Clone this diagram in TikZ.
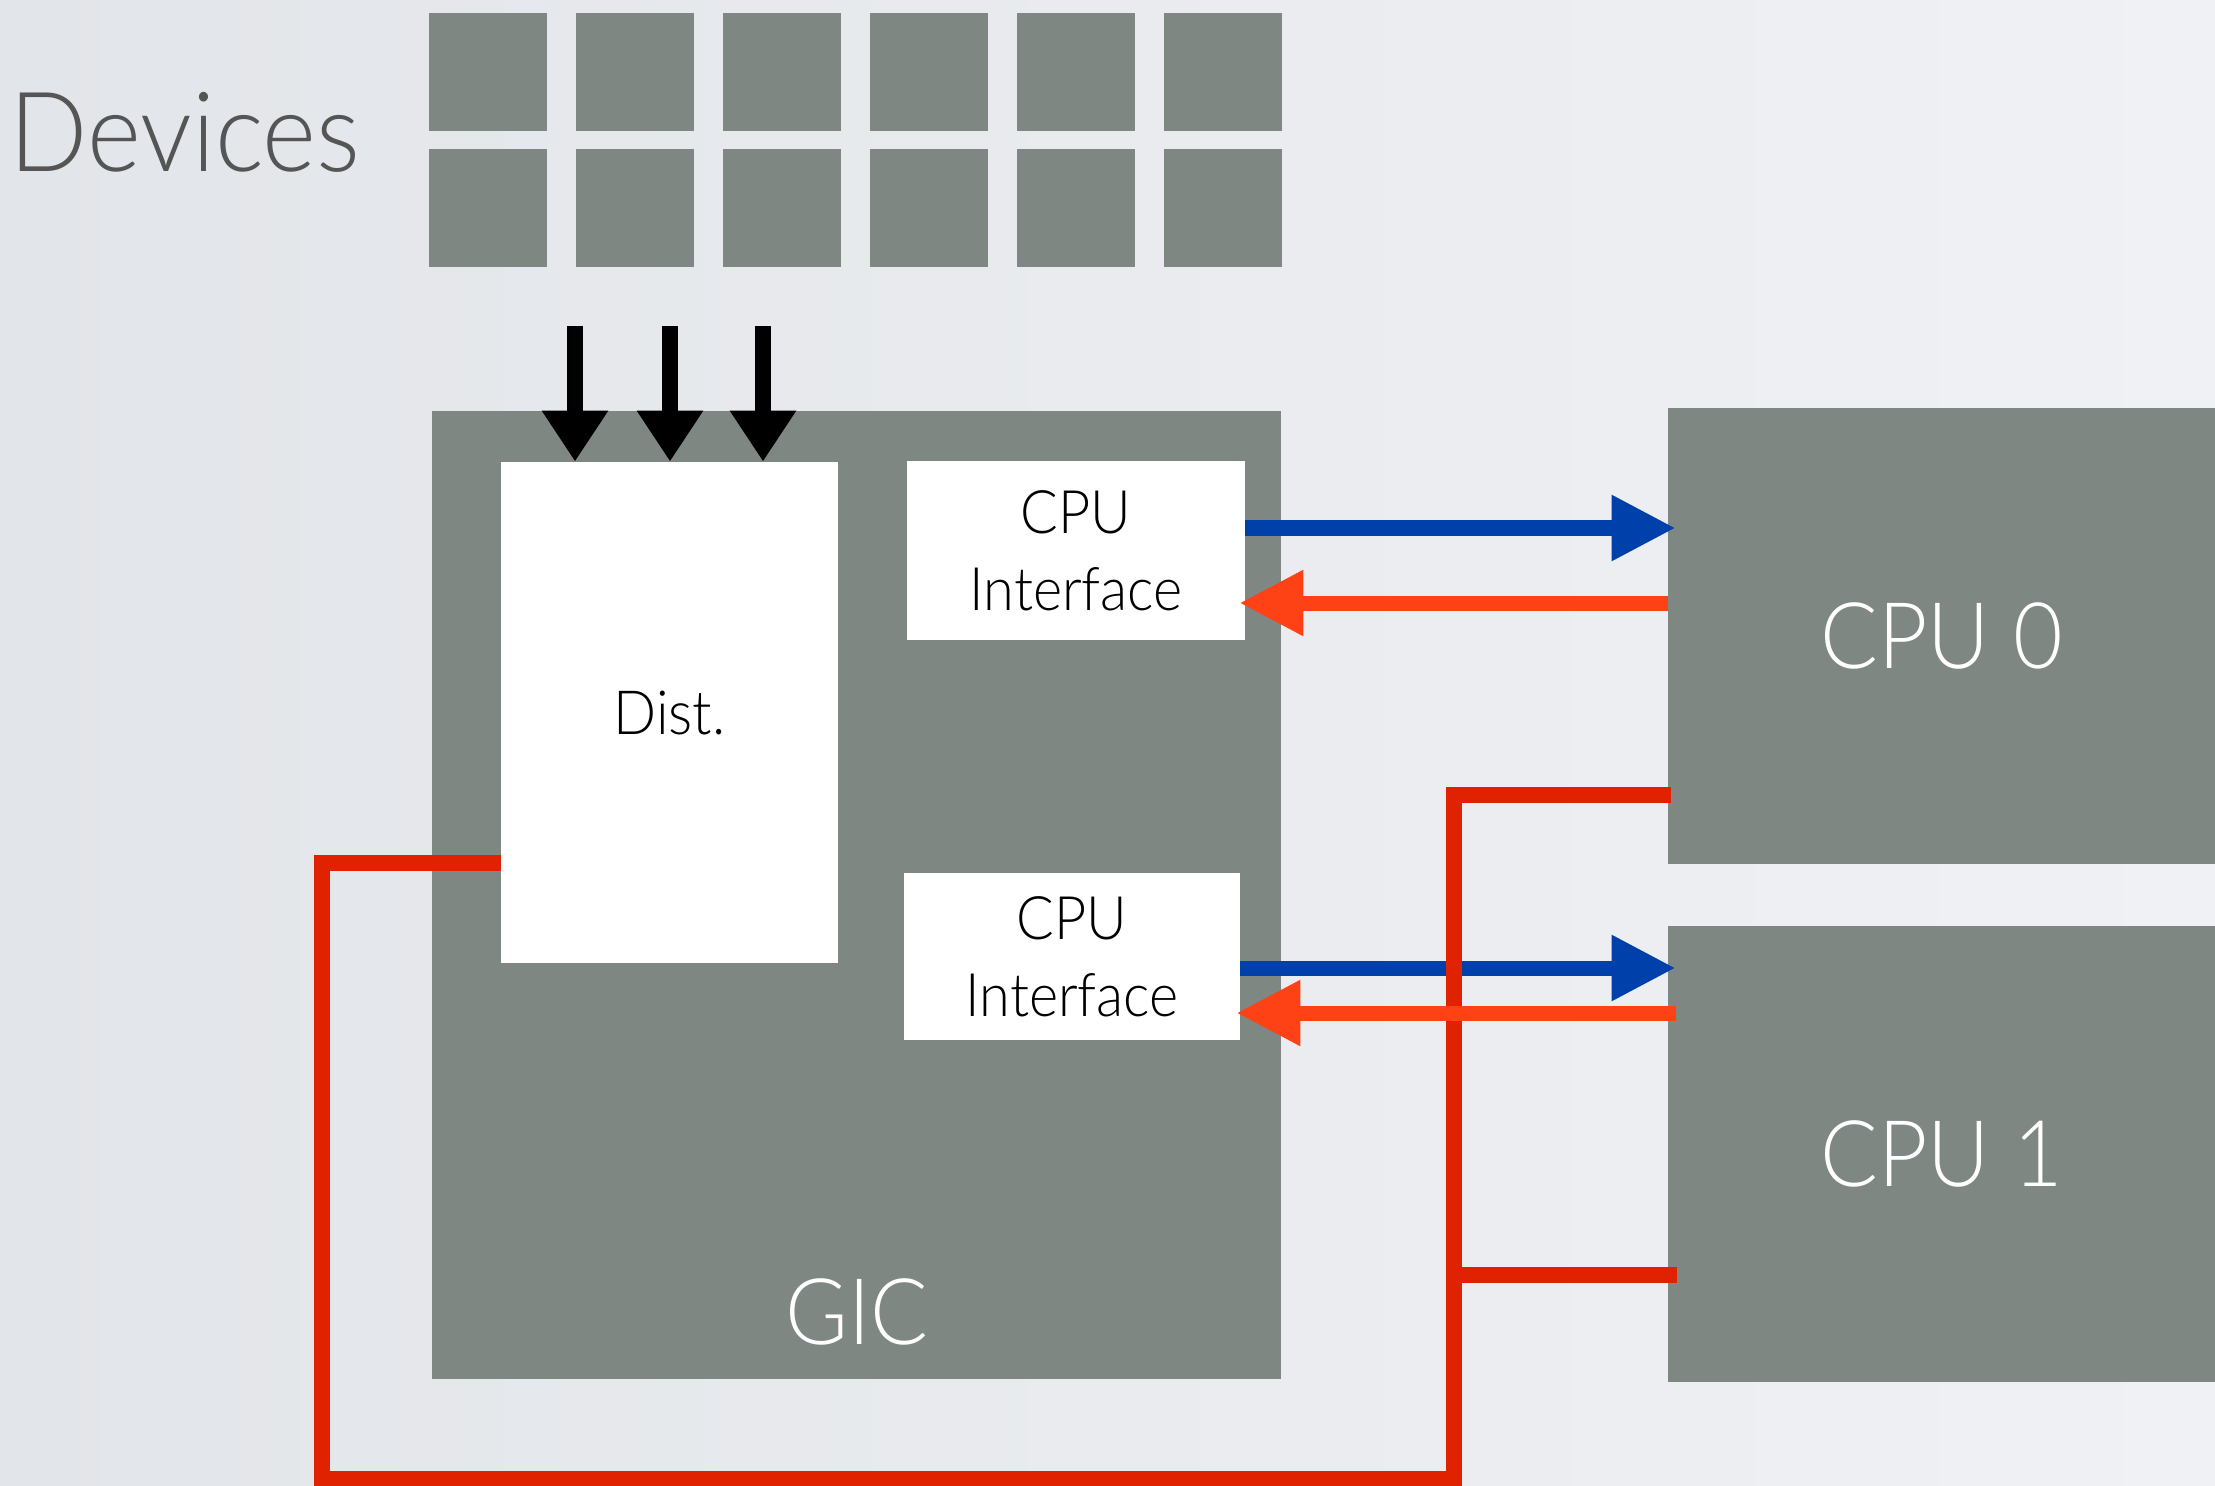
\documentclass[tikz,border=0pt]{standalone}
\usepackage{fontspec}
\setmainfont{Lato}[UprightFont=* Light,FakeStretch=0.93]
\usetikzlibrary{arrows.meta}
\definecolor{bgL}{RGB}{226,229,233}
\definecolor{bgR}{RGB}{240,241,244}
\definecolor{boxgray}{RGB}{127,135,131}
\definecolor{txtgray}{RGB}{85,85,85}
\definecolor{arrblue}{RGB}{0,64,170}
\definecolor{arrorange}{RGB}{255,66,22}
\definecolor{wirered}{RGB}{224,34,0}
\begin{document}
\begin{tikzpicture}[x=0.5pt,y=-0.5pt,
  graybox/.style={rectangle,fill=boxgray,draw=none,inner sep=0pt},
  whitebox/.style={rectangle,fill=white,draw=none,inner sep=0pt,align=center,text=black},
  devbox/.style={graybox,minimum width=59pt,minimum height=59pt},
  lbl/.style={inner sep=0pt,anchor=base},
  blackarr/.style={draw=black,line width=8pt,-{Triangle[length=25.5pt,width=31.5pt]}},
  bluearr/.style={draw=arrblue,line width=7.5pt,-{Triangle[length=32pt,width=31pt]}},
  orangearr/.style={draw=arrorange,line width=7.5pt,-{Triangle[length=32pt,width=31pt]}},
  wire/.style={draw=wirered,line width=8pt,line join=miter}]
\useasboundingbox (0,0) rectangle (2215,1486);
\shade[left color=bgL,right color=bgR] (0,0) rectangle (2215,1486);

% devices
\node[lbl,anchor=base west,text=txtgray,font=\fontsize{55.5}{60}\selectfont] (devlbl) at (9,172) {Devices};
\foreach \i in {0,...,5}{
  \node[devbox] (devA\i) at ({488+147*\i},72) {};
  \node[devbox] (devB\i) at ({488+147*\i},208) {};
}

% GIC and its parts
\node[graybox,minimum width=424.5pt,minimum height=484pt] (gic) at (856.5,895) {};
\node[lbl,text=white,font=\fontsize{46}{50}\selectfont] (giclbl) at (857,1344) {GIC};
\node[whitebox,minimum width=168.5pt,minimum height=250.5pt,font=\fontsize{30.5}{36}\selectfont] (dist) at (669.5,712.5) {Dist.};
\node[whitebox,minimum width=169pt,minimum height=89.5pt,font=\fontsize{30}{38.5}\selectfont] (ifa) at (1076,550.5) {CPU\\Interface};
\node[whitebox,minimum width=168pt,minimum height=83.5pt,font=\fontsize{30}{38.5}\selectfont] (ifb) at (1072,956.5) {CPU\\Interface};

% CPUs
\node[graybox,minimum width=273.5pt,minimum height=228pt,text=white,font=\fontsize{46}{50}\selectfont] (cpu0) at (1941.5,636) {CPU 0};
\node[graybox,minimum width=273.5pt,minimum height=228pt,text=white,font=\fontsize{46}{50}\selectfont] (cpu1) at (1941.5,1154) {CPU 1};

% device interrupt lines
\coordinate (s1) at (575,326);
\coordinate (s2) at (670,326);
\coordinate (s3) at (763,326);
\draw[blackarr] (s1) -- (s1 |- dist.north);
\draw[blackarr] (s2) -- (s2 |- dist.north);
\draw[blackarr] (s3) -- (s3 |- dist.north);

% blue arrows
\coordinate (ya) at (0,528);
\coordinate (yb) at (0,968);
\draw[bluearr,shorten >=-4pt] (ifa.east |- ya) -- (cpu0.west |- ya);
\draw[bluearr,shorten >=-4pt] (ifb.east |- yb) -- (cpu1.west |- yb);

% red wires
\coordinate (w1) at (322,863);
\coordinate (w2) at (322,1479);
\coordinate (w3) at (1454,1479);
\coordinate (w4) at (1454,795);
\coordinate (w5) at (1454,1275);
\draw[wire] (dist.west |- w1) -- (w1) -- (w2) -- (w3) -- (w4) -- ([xshift=1.5pt]cpu0.west |- w4);
\draw[wire] (w5) -- ([xshift=4.5pt]cpu1.west |- w5);

% orange arrows
\coordinate (yc) at (0,603);
\coordinate (yd) at (0,1013);
\draw[orangearr,shorten >=-3pt] (cpu0.west |- yc) -- (ifa.east |- yc);
\draw[orangearr,shorten <=-4pt,shorten >=-2pt] (cpu1.west |- yd) -- (ifb.east |- yd);
\end{tikzpicture}
\end{document}
